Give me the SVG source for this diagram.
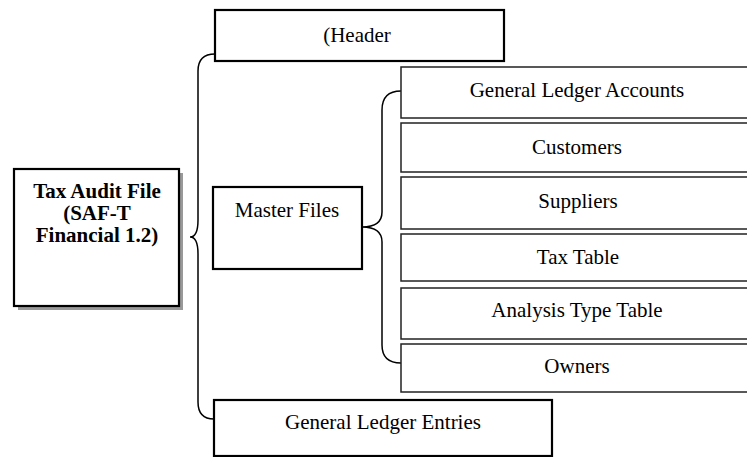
<svg xmlns="http://www.w3.org/2000/svg" width="747" height="457" viewBox="0 0 747 457">
<style>
text{font-family:"Liberation Serif","Times New Roman",serif;font-size:21px;fill:#000;text-anchor:middle}
.b{font-weight:bold}
.thick{fill:#fff;stroke:#000;stroke-width:2.2}
.thin{fill:#fff;stroke:#222;stroke-width:1.5}
.br{fill:none;stroke:#000;stroke-width:1.5}
</style>
<rect width="747" height="457" fill="#fff"/>
<g id="connectors">
<path class="br" d="M215,54 Q198,54 198,71 L198,220 Q198,237 190,237 Q198,237 198,254 L198,402 Q198,419 214,419"/>
<path class="br" d="M401,91 Q382,91 382,110 L382,212 Q382,227 362,227 Q382,227 382,242 L382,345 Q382,363 401,363"/>
</g>
<g id="tax-audit-file">
<rect x="18" y="173" width="165" height="137" fill="#999"/>
<rect class="thick" x="14" y="169" width="165" height="137"/>
<text class="b" x="97" y="198">Tax Audit File</text>
<text class="b" x="97" y="220">(SAF-T</text>
<text class="b" x="97" y="242">Financial 1.2)</text>
</g>
<g id="header">
<rect class="thick" x="215" y="10" width="289" height="51"/>
<text x="357" y="42">(Header</text>
</g>
<g id="master-files">
<rect class="thick" x="213" y="187" width="149" height="82"/>
<text x="287" y="217">Master Files</text>
</g>
<g id="general-ledger-entries">
<rect class="thick" x="214" y="400" width="338" height="56"/>
<text x="383" y="429">General Ledger Entries</text>
</g>
<g id="general-ledger-accounts">
<rect class="thin" x="401" y="67" width="350" height="51"/>
<text x="577" y="97">General Ledger Accounts</text>
</g>
<g id="customers">
<rect class="thin" x="401" y="123" width="350" height="49"/>
<text x="577" y="154">Customers</text>
</g>
<g id="suppliers">
<rect class="thin" x="401" y="177" width="350" height="52"/>
<text x="578" y="208">Suppliers</text>
</g>
<g id="tax-table">
<rect class="thin" x="401" y="234" width="350" height="47"/>
<text x="578" y="264">Tax Table</text>
</g>
<g id="analysis-type-table">
<rect class="thin" x="401" y="288" width="350" height="51"/>
<text x="577" y="317">Analysis Type Table</text>
</g>
<g id="owners">
<rect class="thin" x="401" y="344" width="350" height="48"/>
<text x="577" y="373">Owners</text>
</g>
</svg>
